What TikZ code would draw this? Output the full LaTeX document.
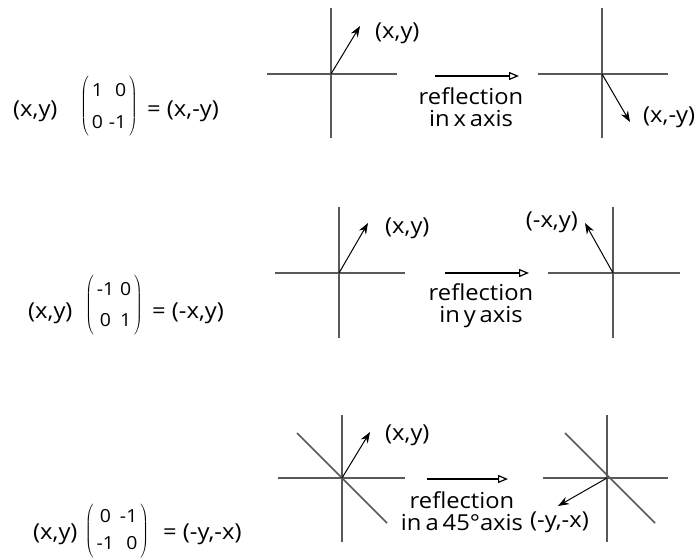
\documentclass[tikz,border=0pt]{standalone}
\usepackage{fontspec}
\setmainfont{Open Sans}[FakeStretch=1.08]
\usetikzlibrary{arrows.meta}
\newcommand{\mtx}[6]{$\left(\hspace{3pt}\vcenter{\hbox{\fontsize{18}{#1}\selectfont\begin{tabular}{@{}c@{\hspace{6pt}}#2@{}}#3&#4\\#5&#6\end{tabular}}}\hspace{3pt}\right)$}
\newcommand{\capfont}{\fontsize{22}{22}\selectfont\spaceskip=0.18em\relax}
\begin{document}
\begin{tikzpicture}[x=1pt,y=-1pt,
  axis/.style={draw=black!65,line width=1.5pt},
  vec/.style={draw=black,line width=1pt,-{Stealth[length=11pt,width=8pt]}},
  maparrow/.style={draw=black,line width=2.8pt,-{Triangle[open,length=10pt,width=8pt,line width=1.2pt,fill=white]}},
  lbl/.style={font=\fontsize{22}{22}\selectfont,inner sep=0pt},
  captxt/.style={font=\capfont,inner sep=0pt,align=center},
  eq/.style={font=\fontsize{22}{22}\selectfont,inner sep=0pt},
  mat/.style={inner sep=0pt}]
\useasboundingbox (0,0) rectangle (699,559);
% ---------- row 1 ----------
\coordinate (o1) at (331,74);
\coordinate (t1) at (360,26);
\draw[axis] (331,8) -- (331,138);
\draw[axis] (267,74) -- (397,74);
\draw[vec] (o1) -- (t1);
\node[lbl,anchor=west] (l1) at (375,33) {(x,y)};
\coordinate (a1s) at (435,76);
\coordinate (a1e) at (519,76);
\draw[maparrow] (a1s) -- (a1e);
\node[captxt] (c1) at (471,107) {reflection\\in x axis};
\coordinate (o2) at (602,74);
\coordinate (t2) at (630,122);
\draw[axis] (602,8) -- (602,138);
\draw[axis] (538,74) -- (668,74);
\draw[vec] (o2) -- (t2);
\node[lbl,anchor=west] (l2) at (643,117) {(x,-y)};
\node[eq,anchor=west] (e1a) at (13,111) {(x,y)};
\node[mat] (m1) at (109,106) {\mtx{32}{r}{1}{0}{0}{-1}};
\node[eq,anchor=west] (e1b) at (147,111) {= (x,-y)};
% ---------- row 2 ----------
\coordinate (o3) at (339,273);
\coordinate (t3) at (368,223);
\draw[axis] (339,207) -- (339,338);
\draw[axis] (275,273) -- (405,273);
\draw[vec] (o3) -- (t3);
\node[lbl,anchor=west] (l3) at (385,228) {(x,y)};
\coordinate (a2s) at (445,273);
\coordinate (a2e) at (529,273);
\draw[maparrow] (a2s) -- (a2e);
\node[captxt] (c2) at (481,306) {reflection\\in y axis};
\coordinate (o4) at (613,273);
\coordinate (t4) at (585,223);
\draw[axis] (613,207) -- (613,338);
\draw[axis] (548,273) -- (680,273);
\draw[vec] (o4) -- (t4);
\node[lbl,anchor=east] (l4) at (578,222) {(-x,y)};
\node[eq,anchor=west] (e2a) at (28,313) {(x,y)};
\node[mat] (m2) at (114,305) {\mtx{31}{c}{-1}{0}{0}{1}};
\node[eq,anchor=west] (e2b) at (152,313) {= (-x,y)};
% ---------- row 3 ----------
\coordinate (o5) at (342,478);
\coordinate (t5) at (370,432);
\draw[axis] (342,415) -- (342,542);
\draw[axis] (278,478) -- (405,478);
\draw[axis] (297,433) -- (387,523);
\draw[vec] (o5) -- (t5);
\node[lbl,anchor=west] (l5) at (385,435) {(x,y)};
\coordinate (a3s) at (427,479);
\coordinate (a3e) at (508,479);
\draw[maparrow] (a3s) -- (a3e);
\node[captxt] (c3) at (462,511) {reflection\\in a 45°axis};
\coordinate (o6) at (607,478);
\coordinate (t6) at (558,506);
\draw[axis] (607,415) -- (607,542);
\draw[axis] (543,478) -- (668,478);
\draw[axis] (565,433) -- (655,523);
\draw[vec] (o6) -- (t6);
\node[lbl,anchor=west] (l6) at (530,522) {(-y,-x)};
\node[eq,anchor=west] (e3a) at (33,534) {(x,y)};
\node[mat] (m3) at (117,531) {\mtx{27}{r}{0}{-1}{-1}{0}};
\node[eq,anchor=west] (e3b) at (163,534) {= (-y,-x)};
\end{tikzpicture}
\end{document}
